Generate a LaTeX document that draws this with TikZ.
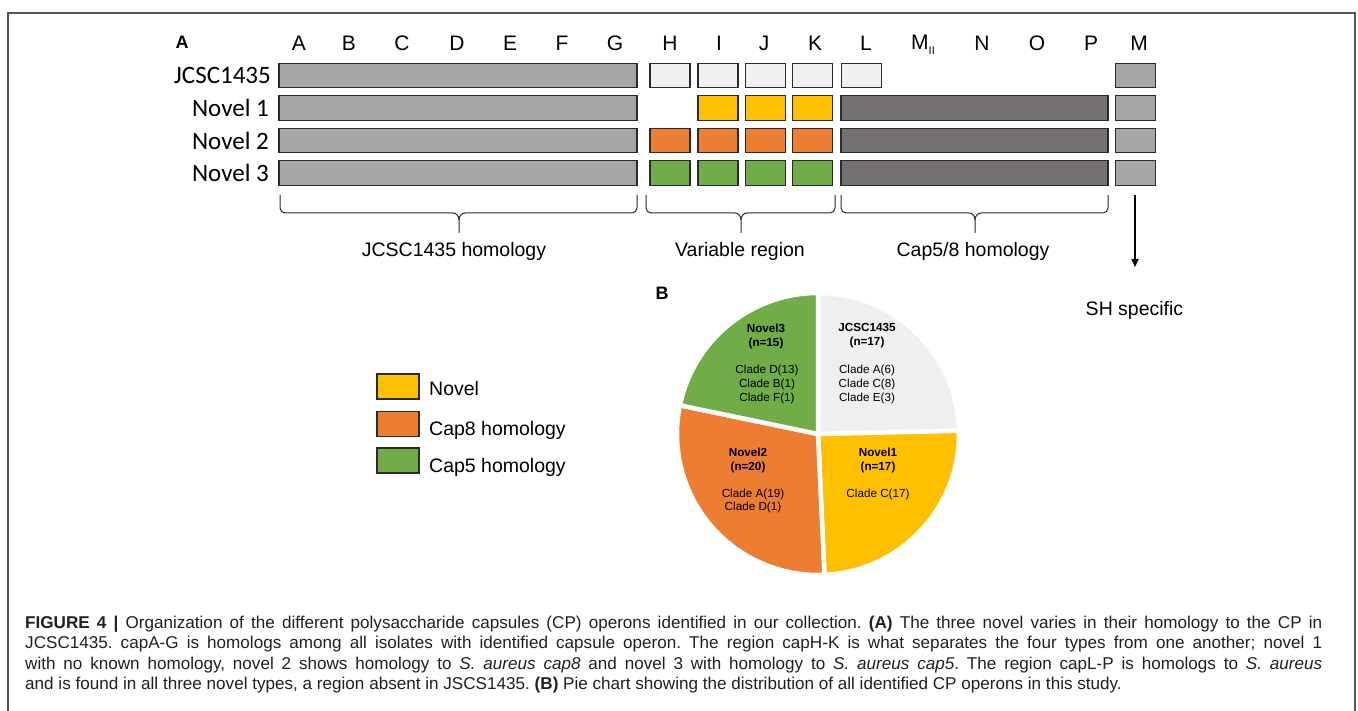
\documentclass[tikz,border=0pt]{standalone}
\usepackage{fontspec}
\setmainfont{Liberation Sans}
\newfontfamily\calib{Carlito}
\usetikzlibrary{arrows.meta}
\frenchspacing
\definecolor{gbar}{HTML}{A6A6A6}
\definecolor{lbox}{HTML}{F0F0F0}
\definecolor{ylw}{HTML}{FFC000}
\definecolor{org}{HTML}{ED7D31}
\definecolor{grn}{HTML}{70AD47}
\definecolor{dbar}{HTML}{767171}
\definecolor{edge}{HTML}{2B2B2B}
\definecolor{pgray}{HTML}{EFEFEF}
\definecolor{frame}{HTML}{555555}
\definecolor{capc}{HTML}{231F20}
\begin{document}
\begin{tikzpicture}[x=1pt,y=-1pt,
  seg/.style={draw=edge,line width=1.3pt,inner sep=0,outer sep=0,minimum height=24.5pt},
  wide/.style={seg,minimum width=358pt,fill=gbar},
  small/.style={seg,minimum width=40pt},
  dark/.style={seg,minimum width=267pt,fill=dbar},
  hdr/.style={inner sep=0,font=\fontsize{21}{24}\selectfont},
  rowlab/.style={anchor=east,inner sep=0,font=\calib\fontsize{25}{28}\selectfont},
  lab/.style={inner sep=0,font=\fontsize{19.5}{23}\selectfont},
  panel/.style={inner sep=0,font=\bfseries\fontsize{18}{21}\selectfont},
  bracket/.style={draw=edge,line width=1pt},
  legbox/.style={draw=edge,line width=1.3pt,inner sep=0,minimum width=42pt,minimum height=25pt},
  ptitle/.style={inner sep=0,align=center,font=\bfseries\fontsize{11.7}{14}\selectfont},
  ptext/.style={inner sep=0,align=center,font=\fontsize{11.7}{13.6}\selectfont},
  slice/.style={draw=white,line width=4.5pt,line join=round}]
\useasboundingbox (0,0) rectangle (1358,711);
\fill[white] (0,0) rectangle (1358,711);
% frame
\draw[frame,line width=1.2pt] (8,712) -- (8,13) -- (1355,13) -- (1355,712);

% panel labels
\node[panel] (pA) at (182,42) {A};
\node[panel] (pB) at (662,293) {B};

% header letters
\foreach \n/\x/\t in {hA/299/A,hB/349/B,hC/402/C,hD/457/D,hE/510/E,hF/562/F,hG/615/G,
  hH/670/H,hI/719/I,hJ/764/J,hK/815/K,hL/866/L,hN/982/N,hO/1037/O,hP/1091/P,hM/1139/M}
  \node[hdr] (\n) at (\x,43) {\t};
\node[hdr] (hMII) at (923,45) {M\raisebox{-0.45ex}{\fontsize{11}{11}\selectfont II}};

% row labels
\node[rowlab] (lJ) at (271,75.5) {JCSC1435};
\node[rowlab] (l1) at (269,108) {Novel 1};
\node[rowlab] (l2) at (269,140.5) {Novel 2};
\node[rowlab] (l3) at (269,173) {Novel 3};

% JCSC1435 row
\node[wide] (jAG) at (458,75.5) {};
\node[small,fill=lbox] (jH) at (670,75.5) {};
\node[small,fill=lbox] (jI) at (718,75.5) {};
\node[small,fill=lbox] (jJ) at (765.5,75.5) {};
\node[small,fill=lbox] (jK) at (812.5,75.5) {};
\node[small,fill=lbox] (jL) at (861.5,75.5) {};
\node[small,fill=gbar] (jM) at (1135.5,75.5) {};
% Novel 1
\node[wide] (aAG) at (458,108) {};
\node[small,fill=ylw] (aI) at (718,108) {};
\node[small,fill=ylw] (aJ) at (765.5,108) {};
\node[small,fill=ylw] (aK) at (812.5,108) {};
\node[dark] (aLP) at (974.5,108) {};
\node[small,fill=gbar] (aM) at (1135.5,108) {};
% Novel 2
\node[wide] (bAG) at (458,140.5) {};
\node[small,fill=org] (bH) at (670,140.5) {};
\node[small,fill=org] (bI) at (718,140.5) {};
\node[small,fill=org] (bJ) at (765.5,140.5) {};
\node[small,fill=org] (bK) at (812.5,140.5) {};
\node[dark] (bLP) at (974.5,140.5) {};
\node[small,fill=gbar] (bM) at (1135.5,140.5) {};
% Novel 3
\node[wide] (cAG) at (458,173) {};
\node[small,fill=grn] (cH) at (670,173) {};
\node[small,fill=grn] (cI) at (718,173) {};
\node[small,fill=grn] (cJ) at (765.5,173) {};
\node[small,fill=grn] (cK) at (812.5,173) {};
\node[dark] (cLP) at (974.5,173) {};
\node[small,fill=gbar] (cM) at (1135.5,173) {};

% brackets
\foreach \l/\m/\r in {280/459/637, 646/741/835, 841/975/1108}{
  \draw[bracket] (\l,195) -- (\l,208) to[out=-90,in=180] (\l+5,213) -- (\m-6,213)
    to[out=0,in=90] (\m,220) -- (\m,233);
  \draw[bracket] (\m,220) to[out=90,in=180] (\m+6,213) -- (\r-5,213)
    to[out=0,in=-90] (\r,208) -- (\r,195);
}
\node[lab] (t1) at (454,251) {JCSC1435 homology};
\node[lab] (t2) at (740,251) {Variable region};
\node[lab] (t3) at (973,251) {Cap5/8 homology};

% arrow
\coordinate (arrS) at (1135,195);
\coordinate (arrE) at (1135,267);
\draw[-{Triangle[length=8pt,width=7pt]},line width=1.6pt] (arrS) -- (arrE);
\node[lab] (sh) at (1134.5,310) {SH specific};

% legend
\node[legbox,fill=ylw] (kY) at (398,386.5) {};
\node[legbox,fill=org] (kO) at (398,424) {};
\node[legbox,fill=grn] (kG) at (398,460.5) {};
\node[lab,anchor=west] (kYt) at (429,389) {Novel};
\node[lab,anchor=west] (kOt) at (429,430) {Cap8 homology};
\node[lab,anchor=west] (kGt) at (429,467) {Cap5 homology};

% pie
\begin{scope}[shift={(818,434)},y=1pt]
  \filldraw[slice,fill=pgray] (0,0) -- (90:141) arc[start angle=90,end angle=1.3,radius=141] -- cycle;
  \filldraw[slice,fill=ylw] (0,0) -- (1.3:141) arc[start angle=1.3,end angle=-87.39,radius=141] -- cycle;
  \filldraw[slice,fill=org] (0,0) -- (-87.39:141) arc[start angle=-87.39,end angle=-191.74,radius=141] -- cycle;
  \filldraw[slice,fill=grn] (0,0) -- (-191.74:141) arc[start angle=-191.74,end angle=-270,radius=141] -- cycle;
\end{scope}
\node[ptitle] (n3t) at (766,336) {Novel3\\(n=15)};
\node[ptext] (n3c) at (767,384.5) {Clade D(13)\\Clade B(1)\\Clade F(1)};
\node[ptitle] (jt) at (867,336) {JCSC1435\\(n=17)};
\node[ptext] (jc) at (867,384.5) {Clade A(6)\\Clade C(8)\\Clade E(3)};
\node[ptitle] (n2t) at (748,460) {Novel2\\(n=20)};
\node[ptext] (n2c) at (753,501) {Clade A(19)\\Clade D(1)};
\node[ptitle] (n1t) at (878,460) {Novel1\\(n=17)};
\node[ptext] (n1c) at (878,494) {Clade C(17)};

% caption
\node[anchor=north west,inner sep=0,align=left,text=capc,
      font=\fontsize{17.1}{20.4}\selectfont] (cap) at (25,616) {%
\makebox[1297pt][s]{\textbf{FIGURE 4 |} Organization of the different polysaccharide capsules (CP) operons identified in our collection. \textbf{(A)} The three novel varies in their homology to the CP in}\\
\makebox[1297pt][s]{JCSC1435. capA-G is homologs among all isolates with identified capsule operon. The region capH-K is what separates the four types from one another; novel 1}\\
\makebox[1297pt][s]{with no known homology, novel 2 shows homology to \textit{S. aureus cap8} and novel 3 with homology to \textit{S. aureus cap5}. The region capL-P is homologs to \textit{S. aureus}}\\
and is found in all three novel types, a region absent in JSCS1435. \textbf{(B)} Pie chart showing the distribution of all identified CP operons in this study.};
\end{tikzpicture}
\end{document}
